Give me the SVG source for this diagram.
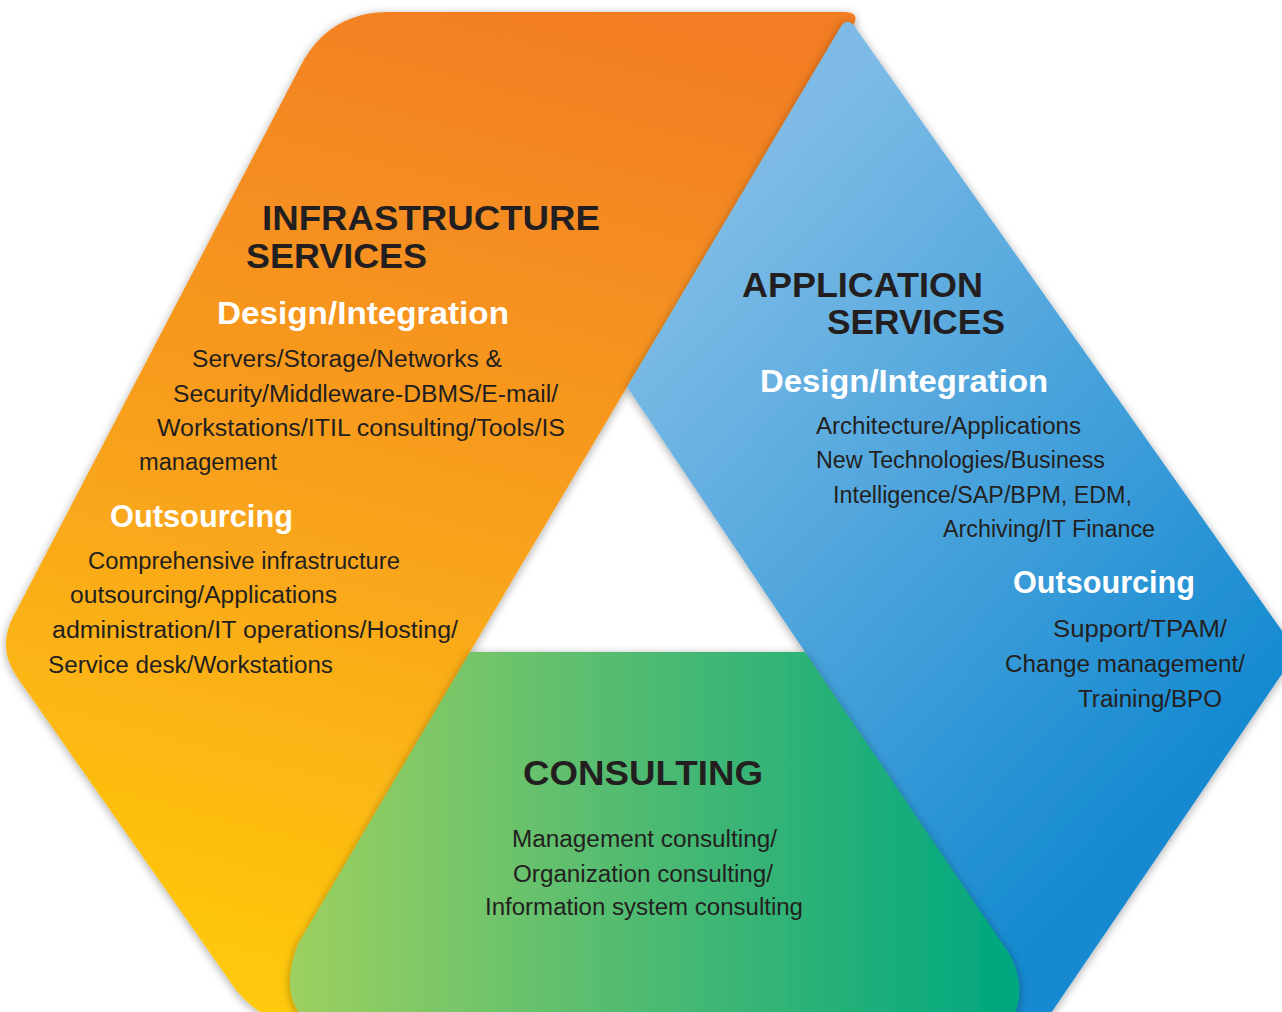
<svg xmlns="http://www.w3.org/2000/svg" width="1282" height="1012" viewBox="0 0 1282 1012">
  <defs>
    <linearGradient id="gOrange" gradientUnits="userSpaceOnUse" x1="560" y1="0" x2="300" y2="1012">
      <stop offset="0" stop-color="#F27D22"/>
      <stop offset="0.5" stop-color="#F8A01E"/>
      <stop offset="1" stop-color="#FFCA0A"/>
    </linearGradient>
    <linearGradient id="gBlue" gradientUnits="userSpaceOnUse" x1="720" y1="220" x2="1260" y2="720">
      <stop offset="0" stop-color="#7DBBE6"/>
      <stop offset="1" stop-color="#1389D0"/>
    </linearGradient>
    <linearGradient id="gGreen" gradientUnits="userSpaceOnUse" x1="290" y1="0" x2="1010" y2="0">
      <stop offset="0" stop-color="#9DD060"/>
      <stop offset="0.5" stop-color="#4DBA72"/>
      <stop offset="1" stop-color="#00A77F"/>
    </linearGradient>
    <filter id="shadow" x="-10%" y="-10%" width="120%" height="120%">
      <feDropShadow dx="0" dy="2" stdDeviation="5" flood-color="#000" flood-opacity="0.35"/>
    </filter>
  </defs>
  <style>
    .title { font-family: "Liberation Sans", Arial, sans-serif; font-weight: bold; font-size: 35px; fill: #231F20; }
    .sub { font-family: "Liberation Sans", Arial, sans-serif; font-weight: bold; font-size: 31px; fill: #FFFFFF; }
    .body { font-family: "Liberation Sans", Arial, sans-serif; font-size: 23px; fill: #231F20; }
  </style>

  <rect width="1282" height="1012" fill="#FFFFFF"/>

  <!-- Infrastructure services band -->
  <g id="node-infrastructure">
    <path filter="url(#shadow)" fill="url(#gOrange)"
      d="M389,12 L844,12 Q862,12 852,27 L627,387 L470,652 L360,1025 L300,1025 Q262,1022 236,990 L17,677 Q-3,648 13,617 L301,65 Q329,12 389,12 Z"/>
    <text class="title" x="262" y="230" textLength="338" lengthAdjust="spacingAndGlyphs">INFRASTRUCTURE</text>
    <text class="title" x="246" y="268" textLength="181" lengthAdjust="spacingAndGlyphs">SERVICES</text>
    <text class="sub" x="217" y="324" textLength="292" lengthAdjust="spacingAndGlyphs">Design/Integration</text>
    <text class="body" x="192" y="367" textLength="310" lengthAdjust="spacingAndGlyphs">Servers/Storage/Networks &amp;</text>
    <text class="body" x="173" y="402" textLength="385" lengthAdjust="spacingAndGlyphs">Security/Middleware-DBMS/E-mail/</text>
    <text class="body" x="157" y="436" textLength="408" lengthAdjust="spacingAndGlyphs">Workstations/ITIL consulting/Tools/IS</text>
    <text class="body" x="139" y="470" textLength="138" lengthAdjust="spacingAndGlyphs">management</text>
    <text class="sub" x="110" y="527" textLength="183" lengthAdjust="spacingAndGlyphs">Outsourcing</text>
    <text class="body" x="88" y="569" textLength="312" lengthAdjust="spacingAndGlyphs">Comprehensive infrastructure</text>
    <text class="body" x="70" y="603" textLength="267" lengthAdjust="spacingAndGlyphs">outsourcing/Applications</text>
    <text class="body" x="52" y="638" textLength="406" lengthAdjust="spacingAndGlyphs">administration/IT operations/Hosting/</text>
    <text class="body" x="48" y="673" textLength="285" lengthAdjust="spacingAndGlyphs">Service desk/Workstations</text>
  </g>

  <!-- Application services band -->
  <g id="node-application">
    <path filter="url(#shadow)" fill="url(#gBlue)"
      d="M840,28 Q847,16 855,27 L1285,635 Q1297,651 1286,668 L1019,1060 L990,1060 L805,652 L627,387 Z"/>
    <text class="title" x="742" y="297" textLength="241" lengthAdjust="spacingAndGlyphs">APPLICATION</text>
    <text class="title" x="827" y="334" textLength="178" lengthAdjust="spacingAndGlyphs">SERVICES</text>
    <text class="sub" x="760" y="392" textLength="288" lengthAdjust="spacingAndGlyphs">Design/Integration</text>
    <text class="body" x="816" y="434" textLength="265" lengthAdjust="spacingAndGlyphs">Architecture/Applications</text>
    <text class="body" x="816" y="468" textLength="289" lengthAdjust="spacingAndGlyphs">New Technologies/Business</text>
    <text class="body" x="833" y="503" textLength="299" lengthAdjust="spacingAndGlyphs">Intelligence/SAP/BPM, EDM,</text>
    <text class="body" x="943" y="537" textLength="212" lengthAdjust="spacingAndGlyphs">Archiving/IT Finance</text>
    <text class="sub" x="1013" y="593" textLength="182" lengthAdjust="spacingAndGlyphs">Outsourcing</text>
    <text class="body" x="1053" y="637" textLength="174" lengthAdjust="spacingAndGlyphs">Support/TPAM/</text>
    <text class="body" x="1005" y="672" textLength="240" lengthAdjust="spacingAndGlyphs">Change management/</text>
    <text class="body" x="1078" y="707" textLength="144" lengthAdjust="spacingAndGlyphs">Training/BPO</text>
  </g>

  <!-- Consulting band -->
  <g id="node-consulting">
    <path filter="url(#shadow)" fill="url(#gGreen)"
      d="M470,652 L805,652 L1010,955 C1022,978 1026,1012 1000,1030 L320,1030 C290,1015 282,985 298,944 Z"/>
    <text class="title" x="523" y="785" textLength="240" lengthAdjust="spacingAndGlyphs">CONSULTING</text>
    <text class="body" x="512" y="847" textLength="265" lengthAdjust="spacingAndGlyphs">Management consulting/</text>
    <text class="body" x="513" y="882" textLength="260" lengthAdjust="spacingAndGlyphs">Organization consulting/</text>
    <text class="body" x="485" y="915" textLength="318" lengthAdjust="spacingAndGlyphs">Information system consulting</text>
  </g>
</svg>
